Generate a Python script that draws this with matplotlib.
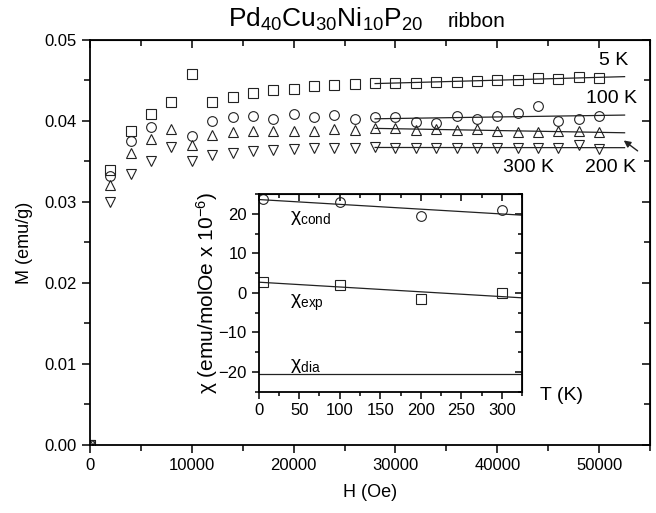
import numpy as np
import matplotlib
matplotlib.use("Agg")
import matplotlib.pyplot as plt
from matplotlib.ticker import MultipleLocator

plt.rcParams['font.family'] = ['Liberation Sans', 'DejaVu Sans']
plt.rcParams['mathtext.fontset'] = 'custom'
plt.rcParams['mathtext.rm'] = 'Liberation Sans'
plt.rcParams['mathtext.it'] = 'Liberation Sans:italic'
plt.rcParams['mathtext.bf'] = 'Liberation Sans:bold'

# magnetization vs field, four temperatures
H = [0, 2000, 4000, 6000, 8000, 10000, 12000, 14000, 16000, 18000, 20000, 22000, 24000,
     26000, 28000, 30000, 32000, 34000, 36000, 38000, 40000, 42000, 44000, 46000, 48000, 50000]
M_5K = [0, 0.0339, 0.0388, 0.0409, 0.0423, 0.0458, 0.0424, 0.0430, 0.0435, 0.0438, 0.0440,
        0.0443, 0.0444, 0.0446, 0.0447, 0.0447, 0.0447, 0.0448, 0.0448, 0.0449, 0.0451,
        0.0451, 0.0453, 0.0452, 0.0454, 0.0453]
M_100K = [0, 0.0332, 0.0375, 0.0392, np.nan, 0.0381, 0.0400, 0.0405, 0.0406, 0.0403, 0.0409,
          0.0405, 0.0407, 0.0403, 0.0405, 0.0405, 0.0399, 0.0398, 0.0406, 0.0402, 0.0406,
          0.0410, 0.0418, 0.0400, 0.0402, 0.0406]
M_200K = [0, 0.0321, 0.0360, 0.0378, 0.0390, 0.0370, 0.0383, 0.0386, 0.0387, 0.0388, 0.0388,
          0.0388, 0.0390, 0.0389, 0.0391, 0.0391, 0.0389, 0.0390, 0.0389, 0.0390, 0.0388,
          0.0386, 0.0386, 0.0387, 0.0388, 0.0386]
M_300K = [0, 0.0300, 0.0335, 0.0350, 0.0368, 0.0350, 0.0358, 0.0361, 0.0363, 0.0364, 0.0366,
          0.0367, 0.0367, 0.0367, 0.0368, 0.0367, 0.0367, 0.0367, 0.0367, 0.0367, 0.0367,
          0.0367, 0.0367, 0.0367, 0.0370, 0.0365]

# susceptibility vs temperature (inset)
T = [5, 100, 200, 300]
chi_cond = [23.7, 23.0, 19.4, 20.9]
chi_exp = [2.8, 2.1, -1.5, 0.0]
chi_dia = -20.6

fit_start = 28000
fit_end = 52500

fig = plt.figure(figsize=(6.56, 5.13), dpi=100)
ax = fig.add_axes([0.1372, 0.1326, 0.8537, 0.7895])

Ha = np.array(H, dtype=float)
series = [(M_5K, 's'), (M_100K, 'o'), (M_200K, '^'), (M_300K, 'v')]
for M, mk in series:
    M = np.array(M, dtype=float)
    ax.plot(Ha, M, ls='none', marker=mk, ms=7, mfc='none', mec='#222222', mew=0.8)
    sel = (Ha >= fit_start) & ~np.isnan(M)
    p = np.polyfit(Ha[sel], M[sel], 1)
    xx = np.array([fit_start, fit_end])
    ax.plot(xx, np.polyval(p, xx), color='#222222', lw=0.9)

ax.set_xlim(0, 55000)
ax.set_ylim(0, 0.05)
ax.xaxis.set_major_locator(MultipleLocator(10000))
ax.xaxis.set_minor_locator(MultipleLocator(5000))
ax.yaxis.set_major_locator(MultipleLocator(0.01))
ax.yaxis.set_minor_locator(MultipleLocator(0.005))
ax.yaxis.set_major_formatter(plt.FormatStrFormatter('%.2f'))
ax.tick_params(which='both', direction='out', labelsize=12, width=1.1)
ax.tick_params(which='major', length=6)
ax.tick_params(which='minor', length=4)
for s in ax.spines.values():
    s.set_linewidth(1.3)

top = ax.secondary_xaxis('top')
top.xaxis.set_major_locator(MultipleLocator(10000))
top.xaxis.set_minor_locator(MultipleLocator(5000))
top.tick_params(which='both', direction='in', labeltop=False, width=1.1)
top.tick_params(which='major', length=6)
top.tick_params(which='minor', length=4)
right = ax.secondary_yaxis('right')
right.yaxis.set_major_locator(MultipleLocator(0.01))
right.yaxis.set_minor_locator(MultipleLocator(0.005))
right.tick_params(which='both', direction='in', labelright=False, width=1.1)
right.tick_params(which='major', length=6)
right.tick_params(which='minor', length=4)

ax.set_xlabel('H (Oe)', fontsize=13, labelpad=8)
ax.set_ylabel('M (emu/g)', fontsize=13, labelpad=8)

ax.text(51400, 0.0475, '5 K', fontsize=14, ha='center', va='center')
ax.text(51200, 0.0428, '100 K', fontsize=14, ha='center', va='center')
ax.text(43100, 0.0343, '300 K', fontsize=14, ha='center', va='center')
ax.text(51100, 0.0343, '200 K', fontsize=14, ha='center', va='center')
ax.annotate('', xy=(52200, 0.0378), xytext=(54000, 0.0361),
            arrowprops=dict(arrowstyle='-|>', color='#222222', lw=1.0, mutation_scale=10))

fig.text(0.3476, 0.947, 'Pd$_{40}$Cu$_{30}$Ni$_{10}$P$_{20}$', fontsize=19, ha='left', va='baseline')
fig.text(0.683, 0.947, 'ribbon', fontsize=15, ha='left', va='baseline')

# inset
axi = fig.add_axes([0.3944, 0.2365, 0.4014, 0.3854])
Ta = np.array(T, dtype=float)
tt = np.array([0, 325])
for vals, mk in [(chi_cond, 'o'), (chi_exp, 's')]:
    axi.plot(Ta, vals, ls='none', marker=mk, ms=7, mfc='none', mec='#222222', mew=0.8)
    p = np.polyfit(Ta, vals, 1)
    axi.plot(tt, np.polyval(p, tt), color='#222222', lw=0.9)
axi.axhline(chi_dia, color='#222222', lw=0.9)
axi.set_xlim(0, 325)
axi.set_ylim(-25, 25)
axi.xaxis.set_major_locator(MultipleLocator(50))
axi.xaxis.set_minor_locator(MultipleLocator(25))
axi.yaxis.set_major_locator(MultipleLocator(10))
axi.yaxis.set_minor_locator(MultipleLocator(5))
axi.tick_params(which='both', direction='out', labelsize=12, width=1.1)
axi.tick_params(which='major', length=5)
axi.tick_params(which='minor', length=3)
for s in axi.spines.values():
    s.set_linewidth(1.3)
itop = axi.secondary_xaxis('top')
itop.xaxis.set_major_locator(MultipleLocator(50))
itop.xaxis.set_minor_locator(MultipleLocator(25))
itop.tick_params(which='both', direction='in', labeltop=False, width=1.1)
itop.tick_params(which='major', length=5)
itop.tick_params(which='minor', length=3)
iright = axi.secondary_yaxis('right')
iright.yaxis.set_major_locator(MultipleLocator(10))
iright.yaxis.set_minor_locator(MultipleLocator(5))
iright.tick_params(which='both', direction='in', labelright=False, width=1.1)
iright.tick_params(which='major', length=5)
iright.tick_params(which='minor', length=3)

axi.text(39, 18.9, 'χ$_{\\rm cond}$', fontsize=14, ha='left', va='center')
axi.text(39, -2.5, 'χ$_{\\rm exp}$', fontsize=14, ha='left', va='center')
axi.text(39, -18.5, 'χ$_{\\rm dia}$', fontsize=14, ha='left', va='center')

fig.text(207 / 656, 1 - 293 / 513, 'χ (emu/molOe x 10$^{-6}$)', fontsize=15,
         rotation=90, ha='center', va='center')
fig.text(562 / 656, 1 - 395 / 513, 'T (K)', fontsize=14, ha='center', va='center')

fig.savefig('out.png', dpi=100)
